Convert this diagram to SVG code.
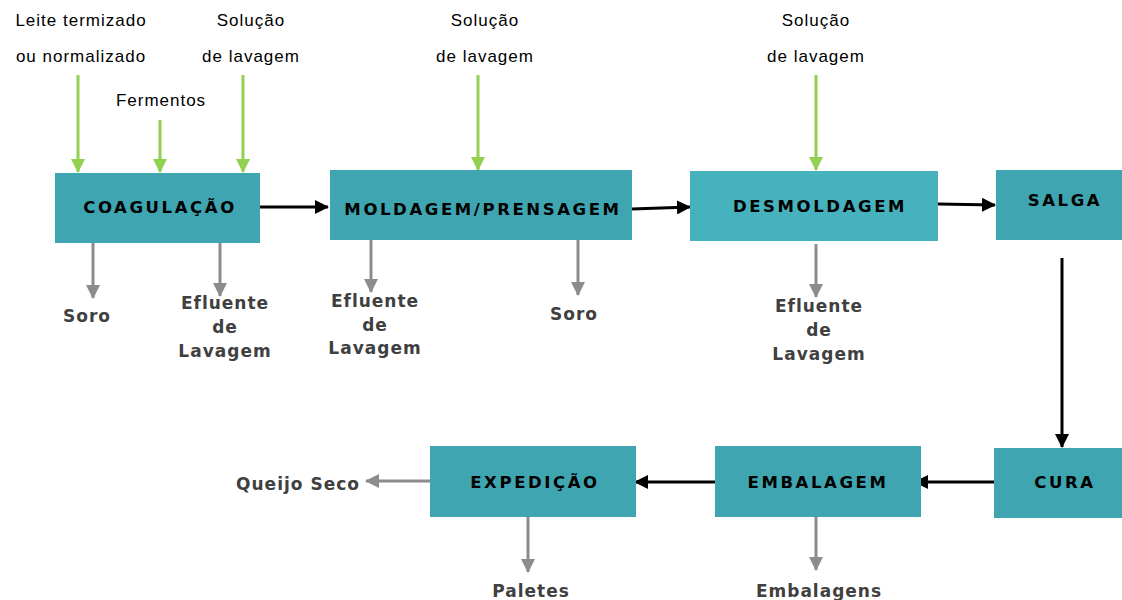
<svg xmlns="http://www.w3.org/2000/svg" width="1122" height="600" viewBox="0 0 1122 600">
  <style>
    .box { fill: #3ea5b1; }
    .box2 { fill: #45b2bd; }
    .step { font-family: "DejaVu Sans", Verdana, sans-serif; font-weight: bold; font-size: 16.5px; letter-spacing: 2.6px; fill: #000; text-anchor: middle; dominant-baseline: central; }
    .out { font-family: "DejaVu Sans", Verdana, sans-serif; font-weight: bold; font-size: 17px; letter-spacing: 1px; fill: #404040; text-anchor: middle; dominant-baseline: central; }
    .in { font-family: "Liberation Sans", Arial, sans-serif; font-size: 17px; letter-spacing: 1px; fill: #000; text-anchor: middle; dominant-baseline: central; }
    .flow { stroke: #000; stroke-width: 3; fill: none; marker-end: url(#hBlack); }
    .feed { stroke: #92d050; stroke-width: 3; fill: none; marker-end: url(#hGreen); }
    .waste { stroke: #8c8c8c; stroke-width: 3; fill: none; marker-end: url(#hGray); }
  </style>
  <defs>
    <marker id="hBlack" markerUnits="userSpaceOnUse" markerWidth="14" markerHeight="14" viewBox="0 0 14 14" refX="13" refY="7" orient="auto">
      <path d="M0,0 L14,7 L0,14 Z" fill="#000"/>
    </marker>
    <marker id="hGreen" markerUnits="userSpaceOnUse" markerWidth="14" markerHeight="14" viewBox="0 0 14 14" refX="13" refY="7" orient="auto">
      <path d="M0,0 L14,7 L0,14 Z" fill="#92d050"/>
    </marker>
    <marker id="hGray" markerUnits="userSpaceOnUse" markerWidth="14" markerHeight="14" viewBox="0 0 14 14" refX="13" refY="7" orient="auto">
      <path d="M0,0 L14,7 L0,14 Z" fill="#8c8c8c"/>
    </marker>
  </defs>

  <!-- connectors -->
  <g id="connectors">
    <line class="flow" x1="260" y1="207" x2="328" y2="207"/>
    <line class="flow" x1="632" y1="209" x2="690" y2="207"/>
    <line class="flow" x1="938" y1="204" x2="995" y2="205"/>
    <line class="flow" x1="1062" y1="258" x2="1062" y2="447"/>
    <line class="flow" x1="994" y1="482" x2="915" y2="482"/>
    <line class="flow" x1="715" y1="482" x2="635" y2="482"/>

    <line class="feed" x1="78" y1="75" x2="78" y2="172"/>
    <line class="feed" x1="160" y1="120" x2="160" y2="172"/>
    <line class="feed" x1="243" y1="75" x2="243" y2="172"/>
    <line class="feed" x1="478" y1="75" x2="478" y2="170"/>
    <line class="feed" x1="816" y1="75" x2="816" y2="170"/>

    <line class="waste" x1="93" y1="243" x2="93" y2="298"/>
    <line class="waste" x1="220" y1="240" x2="220" y2="296"/>
    <line class="waste" x1="371" y1="240" x2="371" y2="292" stroke="#a6a6a6" stroke-width="2"/>
    <line class="waste" x1="578" y1="240" x2="578" y2="295"/>
    <line class="waste" x1="816" y1="244" x2="816" y2="297"/>
    <line class="waste" x1="437" y1="481" x2="366" y2="481" stroke-width="2"/>
    <line class="waste" x1="528" y1="517" x2="528" y2="572"/>
    <line class="waste" x1="816" y1="517" x2="816" y2="570"/>
  </g>

  <!-- process steps -->
  <g id="coagulacao">
    <rect class="box" x="55" y="173" width="205" height="70"/>
    <text class="step" x="160" y="207">COAGULAÇÃO</text>
  </g>
  <g id="moldagem">
    <rect class="box" x="330" y="170" width="302" height="70"/>
    <text class="step" x="483" y="209">MOLDAGEM/PRENSAGEM</text>
  </g>
  <g id="desmoldagem">
    <rect class="box2" x="690" y="171" width="248" height="70"/>
    <text class="step" x="820" y="206">DESMOLDAGEM</text>
  </g>
  <g id="salga">
    <rect class="box" x="996" y="170" width="126" height="70"/>
    <text class="step" x="1065" y="200">SALGA</text>
  </g>
  <g id="cura">
    <rect class="box" x="994" y="448" width="128" height="70"/>
    <text class="step" x="1065" y="482">CURA</text>
  </g>
  <g id="embalagem">
    <rect class="box" x="715" y="446" width="206" height="71"/>
    <text class="step" x="818" y="482">EMBALAGEM</text>
  </g>
  <g id="expedicao">
    <rect class="box" x="430" y="446" width="206" height="71"/>
    <text class="step" x="535" y="482">EXPEDIÇÃO</text>
  </g>

  <!-- inputs -->
  <g id="inputs">
    <text class="in" x="81" y="20">Leite termizado</text>
    <text class="in" x="81" y="56">ou normalizado</text>
    <text class="in" x="161" y="100">Fermentos</text>
    <text class="in" x="251" y="20">Solução</text>
    <text class="in" x="251" y="56">de lavagem</text>
    <text class="in" x="485" y="20">Solução</text>
    <text class="in" x="485" y="56">de lavagem</text>
    <text class="in" x="816" y="20">Solução</text>
    <text class="in" x="816" y="56">de lavagem</text>
  </g>

  <!-- outputs -->
  <g id="outputs">
    <text class="out" x="87" y="316">Soro</text>
    <text class="out" x="225" y="303">Efluente</text>
    <text class="out" x="225" y="327">de</text>
    <text class="out" x="225" y="351">Lavagem</text>
    <text class="out" x="375" y="301">Efluente</text>
    <text class="out" x="375" y="325">de</text>
    <text class="out" x="375" y="348">Lavagem</text>
    <text class="out" x="574" y="314">Soro</text>
    <text class="out" x="819" y="306">Efluente</text>
    <text class="out" x="819" y="330">de</text>
    <text class="out" x="819" y="354">Lavagem</text>
    <text class="out" x="298" y="484">Queijo Seco</text>
    <text class="out" x="531" y="591">Paletes</text>
    <text class="out" x="819" y="591">Embalagens</text>
  </g>
</svg>
